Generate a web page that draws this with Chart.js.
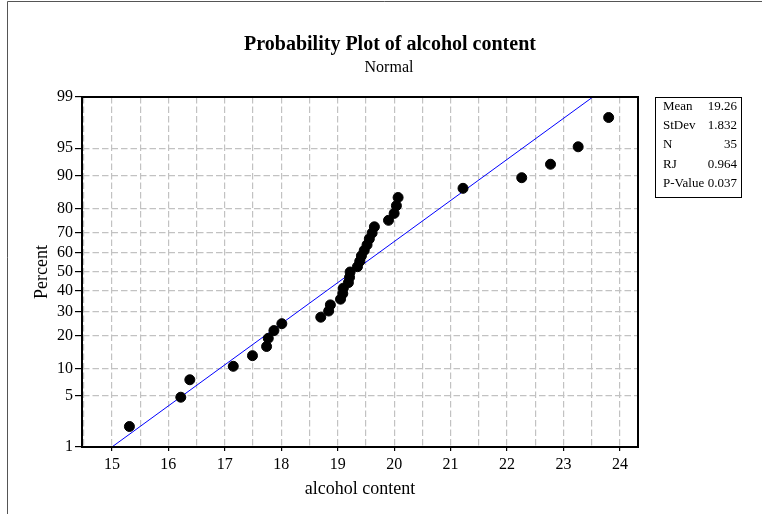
<!DOCTYPE html>
<html>
<head>
<meta charset="utf-8">
<title>Probability Plot of alcohol content</title>
<script src="https://cdn.jsdelivr.net/npm/chart.js@4.4.0/dist/chart.umd.min.js"></script>
<style>
  html, body { margin: 0; padding: 0; background: #fff; }
  #plot { display: block; }
</style>
</head>
<body>
<canvas id="plot" width="762" height="514"></canvas>
<script>
// 데이터
var alcohol = [15.31, 16.22, 16.38, 17.15, 17.49, 17.74, 17.77, 17.87, 18.01, 18.70,
               18.84, 18.87, 19.05, 19.09, 19.10, 19.19, 19.21, 19.22, 19.35, 19.39,
               19.42, 19.47, 19.52, 19.56, 19.61, 19.65, 19.90, 20.00, 20.04, 20.07,
               21.22, 22.26, 22.77, 23.26, 23.80];
var percent = [2.0, 4.8, 7.6, 10.5, 13.3, 16.1, 18.9, 21.8, 24.6, 27.4,
               30.2, 33.1, 35.9, 38.7, 41.5, 44.4, 47.2, 50.0, 52.8, 55.6,
               58.5, 61.3, 64.1, 67.0, 69.8, 72.6, 75.4, 78.2, 81.1, 83.9,
               86.7, 89.5, 92.4, 95.2, 98.0];

// fitted normal line (ends at 1% and 99%)
var fitX = [15.0, 23.52];
var fitPct = [1, 99];

var yTicks = [1, 5, 10, 20, 30, 40, 50, 60, 70, 80, 90, 95, 99];
var xTicks = [15, 16, 17, 18, 19, 20, 21, 22, 23, 24];
var xGrid = [14.5, 15, 15.5, 16, 16.5, 17, 17.5, 18, 18.5, 19, 19.5, 20,
             20.5, 21, 21.5, 22, 22.5, 23, 23.5, 24];

var statLabels = ['Mean', 'StDev', 'N', 'RJ', 'P-Value'];
var statValues = ['19.26', '1.832', '35', '0.964', '0.037'];

var SERIF = '"Liberation Serif", "Times New Roman", serif';

// inverse normal cdf (Acklam) - used for the probability axis
function probit(p) {
  var a = [-3.969683028665376e+01, 2.209460984245205e+02, -2.759285104469687e+02,
           1.383577518672690e+02, -3.066479806614716e+01, 2.506628277459239e+00];
  var b = [-5.447609879822406e+01, 1.615858368580409e+02, -1.556989798598866e+02,
           6.680131188771972e+01, -1.328068155288572e+01];
  var c = [-7.784894002430293e-03, -3.223964580411365e-01, -2.400758277161838e+00,
           -2.549732539343734e+00, 4.374664141464968e+00, 2.938163982698783e+00];
  var d = [7.784695709041462e-03, 3.224671290700398e-01, 2.445134137142996e+00,
           3.754408661907416e+00];
  var plow = 0.02425, q, r;
  if (p < plow) {
    q = Math.sqrt(-2 * Math.log(p));
    return (((((c[0]*q+c[1])*q+c[2])*q+c[3])*q+c[4])*q+c[5]) / ((((d[0]*q+d[1])*q+d[2])*q+d[3])*q+1);
  }
  if (p > 1 - plow) {
    q = Math.sqrt(-2 * Math.log(1 - p));
    return -(((((c[0]*q+c[1])*q+c[2])*q+c[3])*q+c[4])*q+c[5]) / ((((d[0]*q+d[1])*q+d[2])*q+d[3])*q+1);
  }
  q = p - 0.5; r = q * q;
  return (((((a[0]*r+a[1])*r+a[2])*r+a[3])*r+a[4])*r+a[5])*q / (((((b[0]*r+b[1])*r+b[2])*r+b[3])*r+b[4])*r+1);
}

function normCdf(z) {
  // Abramowitz-Stegun
  var t = 1 / (1 + 0.2316419 * Math.abs(z));
  var y = 0.3989423 * Math.exp(-z * z / 2) *
    t * (0.3193815 + t * (-0.3565638 + t * (1.781478 + t * (-1.821256 + t * 1.330274))));
  return z > 0 ? 1 - y : y;
}

// 확률 축 (normal probability scale)
class ProbabilityScale extends Chart.LinearScale {
  buildTicks() {
    return yTicks.map(function (v) { return { value: v }; });
  }
  getPixelForValue(value) {
    var z0 = probit(this.min / 100), z1 = probit(this.max / 100);
    return this.getPixelForDecimal((probit(value / 100) - z0) / (z1 - z0));
  }
  getValueForPixel(pixel) {
    var z0 = probit(this.min / 100), z1 = probit(this.max / 100);
    return normCdf(z0 + this.getDecimalForPixel(pixel) * (z1 - z0)) * 100;
  }
}
ProbabilityScale.id = 'probability';
ProbabilityScale.defaults = {};
Chart.register(ProbabilityScale);

// 제목, 통계 박스, 테두리
var decorPlugin = {
  id: 'decor',
  beforeDraw: function (chart) {
    var ctx = chart.ctx;
    ctx.save();
    ctx.strokeStyle = '#555';
    ctx.lineWidth = 1;
    ctx.beginPath();
    ctx.moveTo(7.5, 514);
    ctx.lineTo(7.5, 1.5);
    ctx.lineTo(762, 1.5);
    ctx.stroke();
    ctx.restore();
  },
  afterDraw: function (chart) {
    var ctx = chart.ctx;
    var a = chart.chartArea;
    ctx.save();
    // plot frame
    ctx.strokeStyle = '#000';
    ctx.lineWidth = 2;
    ctx.strokeRect(a.left, a.top, a.right - a.left, a.bottom - a.top);

    // title
    ctx.fillStyle = '#000';
    ctx.textAlign = 'center';
    ctx.textBaseline = 'alphabetic';
    ctx.font = 'bold 20px ' + SERIF;
    ctx.fillText('Probability Plot of alcohol content', 390, 49.5);
    ctx.font = '16px ' + SERIF;
    ctx.fillText('Normal', 389, 71.5);

    // stats box
    ctx.lineWidth = 1;
    ctx.strokeRect(655.5, 97.5, 86, 100);
    ctx.font = '13px ' + SERIF;
    ctx.textBaseline = 'middle';
    for (var i = 0; i < statLabels.length; i++) {
      var y = 106.5 + i * 19.2;
      ctx.textAlign = 'left';
      ctx.fillText(statLabels[i], 663, y);
      ctx.textAlign = 'right';
      ctx.fillText(statValues[i], 737, y);
    }
    ctx.restore();
  }
};

var scatterData = alcohol.map(function (v, i) { return { x: v, y: percent[i] }; });
var fitData = fitX.map(function (v, i) { return { x: v, y: fitPct[i] }; });

var ctx = document.getElementById('plot').getContext('2d');
var myChart = new Chart(ctx, {
  type: 'scatter',
  data: {
    datasets: [{
      data: scatterData,
      backgroundColor: '#000',
      borderColor: '#000',
      pointRadius: 5,
      order: 0
    }, {
      type: 'line',
      data: fitData,
      borderColor: '#0000ff',
      borderWidth: 1,
      pointRadius: 0,
      fill: false,
      order: 1
    }]
  },
  options: {
    responsive: false,
    animation: false,
    events: [],
    devicePixelRatio: 1,
    layout: { padding: { left: 0, right: 124, top: 97, bottom: 0 } },
    scales: {
      x: {
        type: 'linear',
        min: 14.47,
        max: 24.32,
        afterBuildTicks: function (scale) {
          scale.ticks = xGrid.map(function (v) { return { value: v }; });
        },
        afterFit: function (scale) { scale.height = 67; },
        ticks: {
          autoSkip: false,
          maxRotation: 0,
          padding: 4,
          color: '#000',
          font: { family: SERIF, size: 16 },
          callback: function (v) { return xTicks.indexOf(v) >= 0 ? String(v) : ''; }
        },
        grid: {
          color: '#c2c2c2',
          lineWidth: 1.2,
          tickLength: 4,
          tickColor: function (c) {
            return (c.tick && xTicks.indexOf(c.tick.value) >= 0) ? '#000' : 'rgba(0,0,0,0)';
          }
        },
        border: { color: '#000', width: 2, dash: [6.5, 3] },
        title: {
          display: true,
          text: 'alcohol content',
          color: '#000',
          font: { family: SERIF, size: 18 },
          padding: { top: 0, bottom: 14 }
        }
      },
      y: {
        type: 'probability',
        min: 1,
        max: 99,
        afterFit: function (scale) { scale.width = 82; },
        ticks: {
          autoSkip: false,
          padding: 2,
          color: '#000',
          font: { family: SERIF, size: 16 },
          callback: function (v) { return String(v); }
        },
        grid: {
          color: '#c2c2c2',
          lineWidth: 1.2,
          tickLength: 7,
          tickColor: '#000'
        },
        border: { color: '#000', width: 2, dash: [6.5, 3] },
        title: {
          display: true,
          text: 'Percent',
          color: '#000',
          font: { family: SERIF, size: 18 },
          padding: { top: 31, bottom: 0 }
        }
      }
    },
    plugins: {
      legend: { display: false },
      tooltip: { enabled: false }
    }
  },
  plugins: [decorPlugin]
});
</script>
</body>
</html>
